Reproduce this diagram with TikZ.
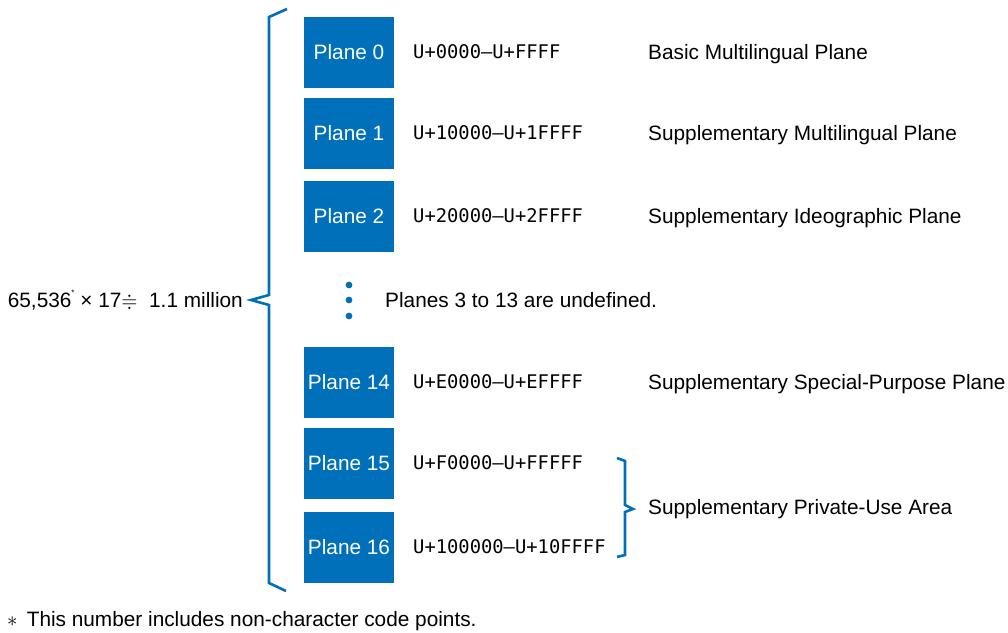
\documentclass[tikz,border=0pt]{standalone}
\usepackage{amssymb}
\usepackage{fontspec}
\setmainfont{Liberation Sans}
\setmonofont{DejaVu Sans Mono}
\usepackage{xcolor}
\definecolor{planeblue}{RGB}{0,112,186}

\begin{document}
\begin{tikzpicture}[x=1pt,y=-1pt,font=\fontsize{20.8}{24}\selectfont,
  planebox/.style={fill=planeblue,text=white,minimum width=90pt,minimum height=71pt,inner sep=0pt},
  coderange/.style={anchor=base west,inner sep=0pt,yshift=-6.8pt,font=\fontsize{18.8}{22}\selectfont\ttfamily},
  desc/.style={anchor=base west,inner sep=0pt,yshift=-7.5pt},
  brace/.style={planeblue,line width=2.6pt,line join=miter}]
  \useasboundingbox (0,0) rectangle (1008,632);
  % planes and their ranges
  \foreach \p/\y/\r in {0/52/0000—U+FFFF,1/133/10000—U+1FFFF,2/216/20000—U+2FFFF,
                        14/382/E0000—U+EFFFF,15/463/F0000—U+FFFFF,16/547/100000—U+10FFFF}{
    \node[planebox] (plane\p) at (349,\y) {Plane \p};
    \node[coderange] (range\p) at (413,\y) {U+\r};
  }
  \node[desc] (desc0) at (648,52) {Basic Multilingual Plane};
  \node[desc] (desc1) at (648,133) {Supplementary Multilingual Plane};
  \node[desc] (desc2) at (648,216) {Supplementary Ideographic Plane};
  \node[desc] (desc14) at (648,382) {Supplementary Special-Purpose Plane};
  \node[desc] (descpua) at (648,507) {Supplementary Private-Use Area};
  % undefined planes
  \foreach \y in {285,300,316}{\fill[planeblue] (349,\y) circle (3.4);}
  \node[desc] (undef) at (385,300) {Planes 3 to 13 are undefined.};
  % braces
  \draw[brace] (287,9) -- (269,17) -- (269,295) -- (251,300) -- (269,305) -- (269,583) -- (286,591);
  \draw[brace] (617,458) -- (625,461) -- (625,505) -- (633,509) -- (625,512) -- (625,555) -- (617,557);
  \node[desc,anchor=base east] (total) at (243,300)
    {65,536\raisebox{1.1ex}{\fontsize{8}{8}\selectfont*} × 17$\doteqdot$\ \ 1.1 million};
  \node[desc] (note) at (7,619) {$\ast$\ \,This number includes non-character code points.};
\end{tikzpicture}
\end{document}
